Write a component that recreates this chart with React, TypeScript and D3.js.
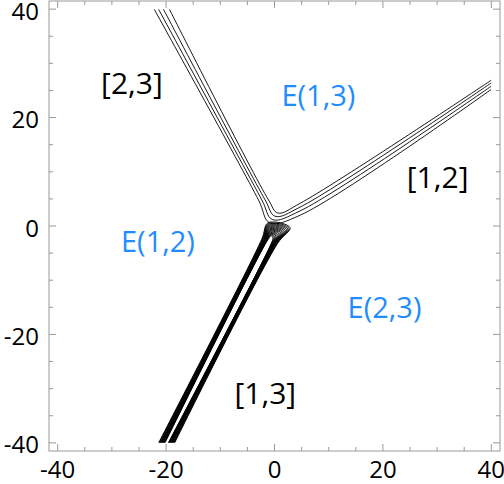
import React from "react";
import * as d3 from "d3";

const W = 504;
const H = 484;

// axis ticks
const xTicks = [-40, -20, 0, 20, 40];
const yTicks = [-40, -20, 0, 20, 40];
const minorTicks = [-40, -35, -30, -25, -20, -15, -10, -5, 0, 5, 10, 15, 20, 25, 30, 35, 40];

// upper-left / right contour bundle (4 curves, innermost first)
const upperTopX = [-19.4, -20.5, -21.4, -22.2]; // at y = 40
const upperNearX = [-1.1, -1.72, -2.33, -2.95]; // at y = 4.8
const bendX = [0.6, 0.1, -0.4, -0.9];
const bendY = [2.4, 1.8, 1.2, 0.6];
const rightNearY = [4.2, 3.5, 2.8, 2.0]; // at x = 4.75
const rightEndY = [26.9, 26.4, 25.8, 25.2]; // at x = 40

// lower thick bundle: centre line and half widths of nested loops
const bundleCentreBottom = [-19.9, -40];
const bundleCentreTop = [-0.9, -2.5];
const bundleHalfWidths = [0.3, 0.37, 0.44, 0.51, 0.58, 0.65, 0.72, 0.79, 0.86, 0.93, 1.0, 1.08, 1.16, 1.24, 1.32, 1.4, 1.48];

// region labels
const labelTexts = ["[2,3]", "E(1,3)", "[1,2]", "E(1,2)", "E(2,3)", "[1,3]"];
const labelX = [-26.3, 8.1, 30.1, -21.5, 20.3, -1.7];
const labelY = [26.4, 24.2, 9.2, -2.6, -14.8, -30.8];
const labelBlue = [false, true, false, true, true, false];

const FONT = "'Open Sans', 'Noto Sans', sans-serif";

export default function App() {
  const left = 49, right = 500, top = 1, bottom = 451;
  const x = d3.scaleLinear().domain([-41.6, 41.6]).range([left, right]);
  const y = d3.scaleLinear().domain([-41.5, 41.5]).range([bottom, top]);

  const lineCR = d3
    .line<[number, number]>()
    .x((d) => x(d[0]))
    .y((d) => y(d[1]))
    .curve(d3.curveCatmullRom.alpha(0.5));

  const vPaths = upperTopX.map((tx, i) => {
    const pts: [number, number][] = [
      [tx, 40],
      [upperNearX[i], 4.8],
      [bendX[i], bendY[i]],
      [4.75, rightNearY[i]],
      [40, rightEndY[i]],
    ];
    return lineCR(pts) as string;
  });

  const [bx0, by0] = bundleCentreBottom;
  const [bx1, by1] = bundleCentreTop;
  const wMin = bundleHalfWidths[0];
  const wMax = bundleHalfWidths[bundleHalfWidths.length - 1];
  const loopPaths = bundleHalfWidths.map((w) => {
    const t = (w - wMin) / (wMax - wMin);
    const pts: [number, number][] = [
      [bx0 - w, by0],
      [bx1 - w, by1],
      [bx1 - w + 0.6 + 0.6 * t, by1 + 0.7 + 2.4 * t],
      [bx1 + w + 0.3 + 2.0 * t, by1 + 0.3 + 1.9 * t],
      [bx1 + w, by1 - 0.7],
      [bx0 + w, by0],
    ];
    return lineCR(pts) as string;
  });

  const frameColor = "#9a9a9a";

  return (
    <svg
      width={W}
      height={H}
      style={{ position: "absolute", left: 0, top: 0, background: "white" }}
    >
      <defs>
        <clipPath id="plotClip">
          <rect x={x(-40)} y={y(40)} width={x(40) - x(-40)} height={y(-40) - y(40)} />
        </clipPath>
      </defs>
      <rect x={0} y={0} width={W} height={H} fill="white" />

      <g clipPath="url(#plotClip)" fill="none" stroke="black">
        {vPaths.map((d, i) => (
          <path key={"v" + i} d={d} strokeWidth={0.9} />
        ))}
        {loopPaths.map((d, i) => (
          <path key={"l" + i} d={d} strokeWidth={0.9} />
        ))}
      </g>

      {/* frame */}
      <rect
        x={left}
        y={top}
        width={right - left}
        height={bottom - top}
        fill="none"
        stroke={frameColor}
        strokeWidth={1}
      />
      {minorTicks.map((t) => {
        const major = xTicks.includes(t);
        const len = major ? 7 : 4;
        return (
          <g key={"t" + t} stroke={frameColor} strokeWidth={1}>
            <line x1={x(t)} x2={x(t)} y1={bottom} y2={bottom - len} />
            <line x1={x(t)} x2={x(t)} y1={top} y2={top + len} />
            <line x1={left} x2={left + len} y1={y(t)} y2={y(t)} />
            <line x1={right} x2={right - len} y1={y(t)} y2={y(t)} />
          </g>
        );
      })}

      {xTicks.map((t) => (
        <text
          key={"xl" + t}
          x={x(t)}
          y={bottom + 27}
          textAnchor="middle"
          fontFamily={FONT}
          fontSize={24}
          fill="black"
        >
          {t}
        </text>
      ))}
      {yTicks.map((t) => (
        <text
          key={"yl" + t}
          x={left - 10}
          y={y(t) + 1}
          textAnchor="end"
          dominantBaseline="central"
          fontFamily={FONT}
          fontSize={24}
          fill="black"
        >
          {t}
        </text>
      ))}

      {labelTexts.map((s, i) => (
        <text
          key={"lab" + i}
          x={x(labelX[i])}
          y={y(labelY[i])}
          textAnchor="middle"
          dominantBaseline="central"
          fontFamily={FONT}
          fontSize={labelBlue[i] ? 29 : 30}
          fill={labelBlue[i] ? "#1f8cff" : "black"}
        >
          {s}
        </text>
      ))}
    </svg>
  );
}
